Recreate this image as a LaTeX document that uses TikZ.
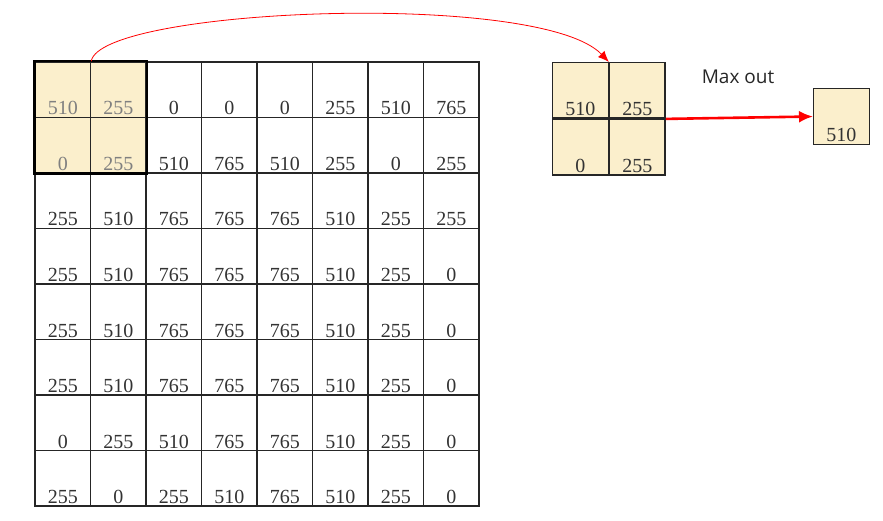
\documentclass[tikz,border=0pt]{standalone}
\usepackage{fontspec}
\setmainfont{Liberation Serif}
\newfontfamily\captionfont{Open Sans}
\usetikzlibrary{arrows.meta, positioning}
\definecolor{poolFill}{HTML}{FBEFCC}
\tikzstyle{cell} = [rectangle, draw=black!85, line width=1.4pt, minimum width=55.5pt, minimum height=55.5pt, inner sep=2.5pt, text height=50.5pt, text depth=0pt, font=\fontsize{20}{20}\selectfont, text=black!80]
\tikzstyle{hlcell} = [cell, fill=poolFill, text=black!50]
\tikzstyle{poolCell} = [cell, fill=poolFill]
\tikzstyle{arrowMap} = [red, line width=0.8pt, -{Latex[length=11pt, width=9pt]}]
\tikzstyle{arrowMax} = [red, line width=2.6pt, -{Latex[length=14pt, width=12pt]}]

\begin{document}
\begin{tikzpicture}[x=1pt, y=-1pt]
    \useasboundingbox (0,0) rectangle (883,521);

    % input image
    \foreach \row [count=\r] in {{510,255,0,0,0,255,510,765},{0,255,510,765,510,255,0,255},{255,510,765,765,765,510,255,255},{255,510,765,765,765,510,255,0},{255,510,765,765,765,510,255,0},{255,510,765,765,765,510,255,0},{0,255,510,765,765,510,255,0},{255,0,255,510,765,510,255,0}} {
        \foreach \v [count=\c] in \row {
            \pgfmathtruncatemacro\hl{(\r<3)&&(\c<3)}
            \ifnum\hl=1 \def\sty{hlcell}\else\def\sty{cell}\fi
            \node (cell-\r-\c) [\sty] at ({35+55.5*(\c-0.5)}, {62+55.5*(\r-0.5)}) {\v};
        }
    }
    \draw [line width=2.4pt] (cell-1-1.north west) rectangle (cell-2-2.south east);

    % pooling window
    \node (win-1-1) [poolCell, anchor=north west] at (552,62) {510};
    \node (win-1-2) [poolCell, right=0pt of win-1-1] {255};
    \node (win-2-1) [poolCell, below=0pt of win-1-1] {0};
    \node (win-2-2) [poolCell, right=0pt of win-2-1] {255};

    % result
    \node (out) [poolCell, anchor=west] at (813,116.5) {510};
    \node (maxLabel) [font=\captionfont\fontsize{19}{19}\selectfont, text=black!85] at (738,77) {Max out};

    \draw [arrowMap] (cell-1-1.north east) .. controls (100,8) and (540,-10) .. (win-1-1.north east);
    \draw [arrowMax] (win-1-2.south east) -- (out.west);

\end{tikzpicture}
\end{document}
